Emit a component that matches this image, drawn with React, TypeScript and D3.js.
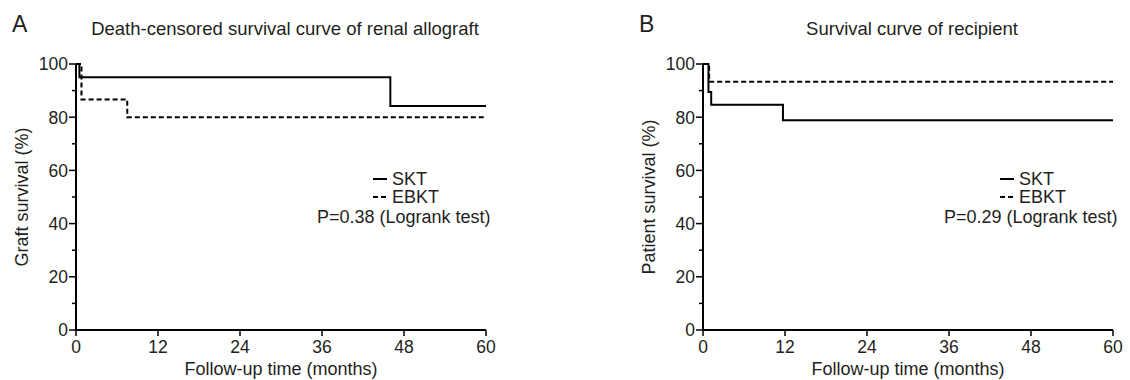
import React from "react";
import { scaleLinear, line, curveStepAfter } from "d3";

// Kaplan-Meier step data (months, % surviving)
const graftSktTime = [0, 0.5, 46, 60];
const graftSktSurv = [100, 95, 84.2, 84.2];
const graftEbktTime = [0, 0.8, 7.5, 60];
const graftEbktSurv = [100, 86.7, 80, 80];

const patientSktTime = [0, 0.8, 1.2, 11.7, 60];
const patientSktSurv = [100, 89.5, 84.7, 78.9, 78.9];
const patientEbktTime = [0, 0.9, 60];
const patientEbktSurv = [100, 93.3, 93.3];

const xTicks = [0, 12, 24, 36, 48, 60];
const yTicks = [0, 20, 40, 60, 80, 100];
const yMinor = [10, 30, 50, 70, 90];
const seriesNames = ["SKT", "EBKT"];

const TEXT = "#231f20";
const FONT = "'Liberation Sans', Arial, Helvetica, sans-serif";

type PanelProps = {
  left: number;
  letter: string;
  title: string;
  yLabel: string;
  pText: string;
  skt: [number[], number[]];
  ebkt: [number[], number[]];
};

function Panel({ left, letter, title, yLabel, pText, skt, ebkt }: PanelProps) {
  const x = scaleLinear().domain([0, 60]).range([left, left + 410]);
  const y = scaleLinear().domain([0, 100]).range([330, 64]);
  const stepLine = line<[number, number]>()
    .x(d => x(d[0]))
    .y(d => y(d[1]))
    .curve(curveStepAfter);
  const toPts = (s: [number[], number[]]) => s[0].map((t, i) => [t, s[1][i]] as [number, number]);
  const cx = (x(0) + x(60)) / 2;
  const lx = x(0) + 297;

  return (
    <g fontFamily={FONT} fill={TEXT}>
      <text x={left - 64} y={32} fontSize={23}>{letter}</text>
      <text x={cx + 4} y={35} fontSize={18.5} textAnchor="middle">{title}</text>

      {/* y axis */}
      <line x1={x(0)} x2={x(0)} y1={y(0)} y2={y(100)} stroke="#000" strokeWidth={2} />
      {yTicks.map(t => (
        <g key={t}>
          <line x1={x(0) - 7} x2={x(0)} y1={y(t)} y2={y(t)} stroke="#000" strokeWidth={1.5} />
          <text x={x(0) - 8} y={y(t)} dy="0.36em" fontSize={17.5} textAnchor="end">{t}</text>
        </g>
      ))}
      {yMinor.map(t => (
        <line key={t} x1={x(0) - 4} x2={x(0)} y1={y(t)} y2={y(t)} stroke="#000" strokeWidth={1.5} />
      ))}
      <text transform={`translate(${x(0) - 48},${(y(0) + y(100)) / 2}) rotate(-90)`} fontSize={18} textAnchor="middle">{yLabel}</text>

      {/* x axis */}
      <line x1={x(0) - 1} x2={x(60)} y1={y(0)} y2={y(0)} stroke="#000" strokeWidth={2} />
      {xTicks.map(t => (
        <g key={t}>
          <line x1={x(t)} x2={x(t)} y1={y(0)} y2={y(0) + 6} stroke="#000" strokeWidth={1.5} />
          <text x={x(t)} y={353} fontSize={17.5} textAnchor="middle">{t}</text>
        </g>
      ))}
      <text x={cx} y={375} fontSize={18} textAnchor="middle">Follow-up time (months)</text>

      {/* curves */}
      <path d={stepLine(toPts(skt)) ?? ""} fill="none" stroke="#000" strokeWidth={2} />
      <path d={stepLine(toPts(ebkt)) ?? ""} fill="none" stroke="#000" strokeWidth={2} strokeDasharray="5,3" />

      {/* legend */}
      <line x1={lx} x2={lx + 14} y1={179} y2={179} stroke="#000" strokeWidth={2} />
      <text x={lx + 19} y={185} fontSize={18}>{seriesNames[0]}</text>
      <line x1={lx} x2={lx + 14} y1={197} y2={197} stroke="#000" strokeWidth={2} strokeDasharray="5,3" />
      <text x={lx + 19} y={203} fontSize={18}>{seriesNames[1]}</text>
      <text x={x(0) + 241} y={223} fontSize={18}>{pText}</text>
    </g>
  );
}

export default function App() {
  return (
    <svg width={1130} height={380} style={{ position: "absolute", left: 0, top: 0, background: "#fff" }}>
      <Panel
        left={76}
        letter="A"
        title="Death-censored survival curve of renal allograft"
        yLabel="Graft survival (%)"
        pText="P=0.38 (Logrank test)"
        skt={[graftSktTime, graftSktSurv]}
        ebkt={[graftEbktTime, graftEbktSurv]}
      />
      <Panel
        left={703}
        letter="B"
        title="Survival curve of recipient"
        yLabel="Patient survival (%)"
        pText="P=0.29 (Logrank test)"
        skt={[patientSktTime, patientSktSurv]}
        ebkt={[patientEbktTime, patientEbktSurv]}
      />
    </svg>
  );
}
